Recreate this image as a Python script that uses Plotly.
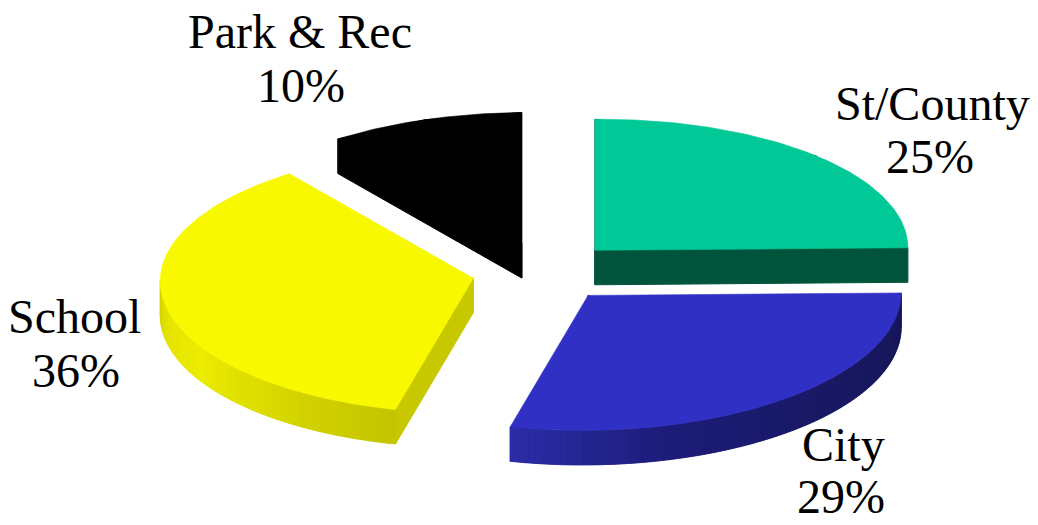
import math
import plotly.graph_objects as go

# Slice data, clockwise from twelve o'clock
categories = ["St/County", "City", "School", "Park & Rec"]
shares = [25, 29, 36, 10]

# Drawing style per slice
top_colors = ["#00c896", "#3030c4", "#f8f800", "#000000"]
edge_colors = ["#00543c", "#1c1c70", "#c8c800", "#000000"]
# Wall shading along the rim: (clock angle, colour)
wall_stops = [
    [(90, "#00543c"), (270, "#00543c")],
    [(90, "#17175a"), (130, "#191964"), (165, "#1c1c78"), (194.4, "#2c2ca8")],
    [(194.4, "#c4c400"), (215, "#d4d400"), (240, "#ecec00"), (258, "#e4e400"), (270, "#d4d400")],
    [(90, "#000000"), (270, "#000000")],
]
label_spots = [(932, 103, 930, 156), (843, 444, 841, 496), (74, 316, 76, 370), (300, 31, 301, 85)]

# Projected pie geometry in page pixels
CX, CY = 544, 272
RX = 313
RY_BACK, RY_FRONT = 131, 135  # the near half of the disc reads slightly deeper
DEPTH = 34.5
EXPLODE = 0.23
TILT = 0.008


def project(x, y):
    """Apply the slight roll of the pie around its centre."""
    return x, y - (x - CX) * TILT


def rim(cx, cy, angle, drop=0.0):
    t = math.radians(angle)
    c = math.cos(t)
    ry = RY_BACK if c >= 0 else RY_FRONT
    return project(cx + RX * math.sin(t), cy - ry * c + drop)


def polygon(points, color, width=1.0):
    xs = [p[0] for p in points] + [points[0][0]]
    ys = [p[1] for p in points] + [points[0][1]]
    return go.Scatter(
        x=xs, y=ys, mode="lines", fill="toself", fillcolor=color,
        line=dict(color=color, width=width), hoverinfo="skip", showlegend=False,
    )


def hex_mix(a, b, f):
    ca = [int(a[i:i + 2], 16) for i in (1, 3, 5)]
    cb = [int(b[i:i + 2], 16) for i in (1, 3, 5)]
    return "#%02x%02x%02x" % tuple(round(p + (q - p) * f) for p, q in zip(ca, cb))


def wall_color(stops, angle):
    if angle <= stops[0][0]:
        return stops[0][1]
    for (a0, c0), (a1, c1) in zip(stops, stops[1:]):
        if angle <= a1:
            return hex_mix(c0, c1, (angle - a0) / (a1 - a0))
    return stops[-1][1]


total = sum(shares)
slices = []
start = 0.0
for i, share in enumerate(shares):
    sweep = 360.0 * share / total
    slices.append((i, start, start + sweep))
    start += sweep

fig = go.Figure()

# Farthest slices go down first so nearer ones overlap them
for i, a0, a1 in sorted(slices, key=lambda s: -math.cos(math.radians((s[1] + s[2]) / 2))):
    mid_deg = (a0 + a1) / 2
    mid = math.radians(mid_deg)
    cx = CX + EXPLODE * RX * math.sin(mid)
    cy = CY - EXPLODE * RY_BACK * math.cos(mid)
    apex = project(cx, cy)
    apex_low = project(cx, cy + DEPTH)

    # Flat cut faces; each reaches under the top face so the join stays closed
    for edge in (a0, a1):
        fig.add_trace(polygon(
            [apex, rim(cx, cy, mid_deg), rim(cx, cy, edge), rim(cx, cy, edge, DEPTH), apex_low],
            edge_colors[i],
        ))

    # Curved wall, only on the half of the rim that faces the viewer.
    # Each strip runs past the next one so no seams open between them.
    lo, hi = max(a0, 90.0), min(a1, 270.0)
    step = 1.0
    a = lo
    while a < hi:
        b = min(a + step, hi)
        end = min(b + 1.0, hi)
        quad = [rim(cx, cy, a), rim(cx, cy, end), rim(cx, cy, end, DEPTH), rim(cx, cy, a, DEPTH)]
        fig.add_trace(polygon(quad, wall_color(wall_stops[i], (a + b) / 2), width=0.5))
        a = b

    # Top face
    n = max(int(a1 - a0), 2)
    arc = [rim(cx, cy, a0 + (a1 - a0) * k / n) for k in range(n + 1)]
    fig.add_trace(polygon([apex] + arc, top_colors[i], width=0.6))

# Labels: name on one line, share on the next
annotations = []
for name, share, (nx, ny, px, py) in zip(categories, shares, label_spots):
    for text, x, y in ((name, nx, ny), (f"{share}%", px, py)):
        annotations.append(dict(
            x=x, y=y, xref="x", yref="y", text=text, showarrow=False,
            xanchor="center", yanchor="middle",
            font=dict(family="Liberation Serif", size=48, color="#000000"),
        ))

fig.update_layout(
    width=1038, height=525, autosize=False,
    margin=dict(l=0, r=0, t=0, b=0),
    paper_bgcolor="#ffffff", plot_bgcolor="#ffffff",
    showlegend=False, annotations=annotations,
    xaxis=dict(range=[0, 1038], visible=False, fixedrange=True),
    yaxis=dict(range=[525, 0], visible=False, fixedrange=True),
)

fig.write_html("out.html", config={"displayModeBar": False})
